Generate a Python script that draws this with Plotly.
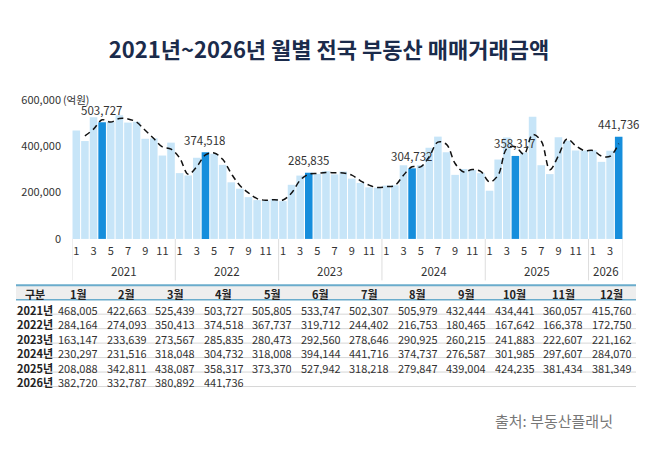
import plotly.graph_objects as go

years = ["2021", "2022", "2023", "2024", "2025", "2026"]
month_names = ["1월", "2월", "3월", "4월", "5월", "6월", "7월", "8월", "9월", "10월", "11월", "12월"]
v2021 = [468005, 422663, 525439, 503727, 505805, 533747, 502307, 505979, 432444, 434441, 360057, 415760]
v2022 = [284164, 274093, 350413, 374518, 367737, 319712, 244402, 216753, 180465, 167642, 166378, 172750]
v2023 = [163147, 233639, 273567, 285835, 280473, 292560, 278646, 290925, 260215, 241883, 222607, 221162]
v2024 = [230297, 231516, 318048, 304732, 318008, 394144, 441716, 374737, 276587, 301985, 297607, 284070]
v2025 = [208088, 342811, 438087, 358317, 373370, 527942, 318218, 279847, 439004, 424235, 381434, 381349]
v2026 = [382720, 332787, 380892, 441736]
yearly = [v2021, v2022, v2023, v2024, v2025, v2026]
highlight_month = 4
y_ticks = [0, 200000, 400000, 600000]
unit_label = "(억원)"
title_text = "2021년~2026년 월별 전국 부동산 매매거래금액"
source_text = "출처: 부동산플래닛"
header_first = "구분"

W, H = 658, 455
OFF = 8  # page body margin offset
def px(x):
    return (x - OFF) / W
def py(y):
    return 1 - (y - OFF) / H

FONT = "Noto Sans CJK KR"

# flatten series
xs, vals, months = [], [], []
for yi, arr in enumerate(yearly):
    for mi, v in enumerate(arr):
        xs.append(len(xs) + 1)
        vals.append(v)
        months.append(mi + 1)

base_vals = [v if m != highlight_month else None for v, m in zip(vals, months)]
hi_vals = [v if m == highlight_month else None for v, m in zip(vals, months)]

# 2-period moving average
ma_x = xs[1:]
ma_y = [(vals[i - 1] + vals[i]) / 2 for i in range(1, len(vals))]

fig = go.Figure()
fig.add_trace(go.Bar(x=xs, y=base_vals, marker=dict(color="#c7e5f8", line=dict(width=0)),
                     hoverinfo="skip", showlegend=False))
fig.add_trace(go.Bar(x=xs, y=hi_vals, marker=dict(color="#168edc", line=dict(width=0)),
                     hoverinfo="skip", showlegend=False))
fig.add_trace(go.Scatter(x=ma_x, y=ma_y, mode="lines",
                         line=dict(color="#111111", width=1.5, dash="6px,4px", shape="spline", smoothing=1.0),
                         hoverinfo="skip", showlegend=False))

# month tick labels (odd months)
tickvals = [x for x, m in zip(xs, months) if m % 2 == 1]
ticktext = [str(m) for m in months if m % 2 == 1]

n = len(xs)
shapes = []
annotations = []

# value labels on highlighted bars
for x, v, m in zip(xs, vals, months):
    if m == highlight_month:
        annotations.append(dict(x=x, y=v, xref="x", yref="y", text=f"{v:,}", showarrow=False,
                                xanchor="center", yanchor="middle", yshift=12.5, height=14,
                                font=dict(family=FONT, size=11.5, color="#333333")))

# year separators and labels
start = 1
for yi, arr in enumerate(yearly):
    end = start + len(arr) - 1
    annotations.append(dict(x=(start + end) / 2, y=py(271), xref="x", yref="paper",
                            text=years[yi], showarrow=False,
                            font=dict(family=FONT, size=11.5, color="#333333"),
                            xanchor="center", yanchor="middle"))
    shapes.append(dict(type="line", xref="x", yref="paper", x0=start - 0.5, x1=start - 0.5,
                       y0=py(238), y1=py(281), line=dict(color="#dddddd", width=1)))
    start = end + 1
shapes.append(dict(type="line", xref="x", yref="paper", x0=n + 0.5, x1=n + 0.5,
                   y0=py(238), y1=py(281), line=dict(color="#dddddd", width=1)))

# unit label
annotations.append(dict(x=px(62), y=py(94), xref="paper", yref="paper", text=unit_label,
                        showarrow=False, xanchor="left", yanchor="middle", borderpad=0,
                        font=dict(family=FONT, size=10.5, color="#333333")))
# source
annotations.append(dict(x=px(615), y=py(426), xref="paper", yref="paper", text=source_text,
                        showarrow=False, xanchor="right", yanchor="middle",
                        font=dict(family=FONT, size=15, color="#777777")))

# table (drawn from the data arrays)
tbl_x0, tbl_x1 = 16, 636
tbl_top, hdr_bot = 286, 301
row_h = 15
col0_c = 35
col_c0, col_w = 78, 48.5
n_rows = len(years)
shapes.append(dict(type="rect", xref="paper", yref="paper", x0=px(tbl_x0), x1=px(tbl_x1),
                   y0=py(hdr_bot), y1=py(tbl_top), fillcolor="#eeeeee", line=dict(width=0), layer="below"))
shapes.append(dict(type="line", xref="paper", yref="paper", x0=px(tbl_x0), x1=px(tbl_x1),
                   y0=py(tbl_top), y1=py(tbl_top), line=dict(color="#6aaccc", width=2)))
shapes.append(dict(type="line", xref="paper", yref="paper", x0=px(tbl_x0), x1=px(tbl_x1),
                   y0=py(hdr_bot), y1=py(hdr_bot), line=dict(color="#6aaccc", width=1.5)))
for r in range(1, n_rows + 1):
    yy = hdr_bot + row_h * r
    shapes.append(dict(type="line", xref="paper", yref="paper", x0=px(tbl_x0), x1=px(tbl_x1),
                       y0=py(yy), y1=py(yy), line=dict(color="#d6d6d6", width=1)))

TEXT_DY = 2.5
def cell(x, y, text, bold=False, color="#333333"):
    annotations.append(dict(x=px(x), y=py(y + TEXT_DY), xref="paper", yref="paper",
                            text=f"<b>{text}</b>" if bold else text, showarrow=False,
                            xanchor="center", yanchor="middle", borderpad=0, height=13,
                            font=dict(family=FONT, size=11, color=color)))

hdr_y = (tbl_top + hdr_bot) / 2 - 1
cell(col0_c, hdr_y, header_first, bold=True, color="#222222")
for mi, mname in enumerate(month_names):
    cell(col_c0 + col_w * mi, hdr_y, mname, bold=True, color="#222222")
for r, (yname, arr) in enumerate(zip(years, yearly)):
    ry = hdr_bot + row_h * r + row_h / 2
    cell(col0_c, ry, f"{yname}년", bold=True, color="#222222")
    for mi, v in enumerate(arr):
        cell(col_c0 + col_w * mi, ry, f"{v:,}")

fig.update_layout(
    width=W, height=H,
    margin=dict(l=0, r=0, t=0, b=0),
    paper_bgcolor="white", plot_bgcolor="white",
    barmode="overlay", bargap=0.12,
    title=dict(text=f"<b>{title_text}</b>", x=px(329), xanchor="center", y=py(50), yanchor="middle",
               font=dict(family=FONT, size=22, color="#1b2b4b")),
    xaxis=dict(domain=[px(72), px(623)], range=[0.5, n + 0.5], tickvals=tickvals, ticktext=ticktext,
               showgrid=False, zeroline=False, showline=False, ticks="",
               ticklabelstandoff=4,
               tickfont=dict(family=FONT, size=11, color="#333333")),
    yaxis=dict(domain=[py(238), py(94)], range=[0, 600000], tickvals=y_ticks,
               tickformat=",", showgrid=False, zeroline=False, showline=False, ticks="",
               ticklabelstandoff=10,
               tickfont=dict(family=FONT, size=11, color="#333333")),
    shapes=shapes, annotations=annotations,
)

fig.write_html("out.html")
